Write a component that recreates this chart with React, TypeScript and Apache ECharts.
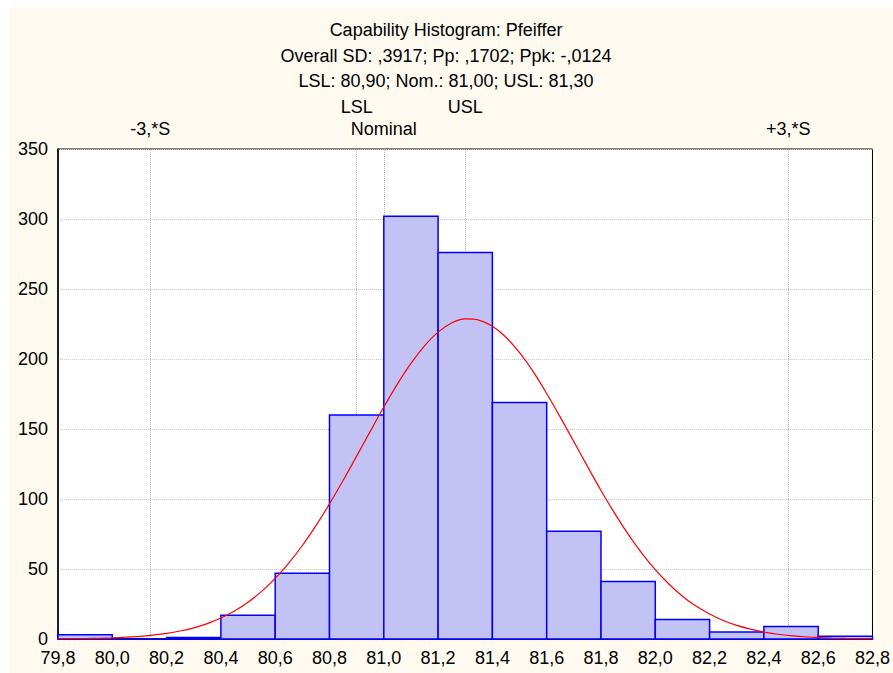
import React, { useEffect, useRef } from "react";
import * as echarts from "echarts";

// Histogram bins (lower edge, upper edge) and counts
const binLower = [79.8, 80.0, 80.2, 80.4, 80.6, 80.8, 81.0, 81.2, 81.4, 81.6, 81.8, 82.0, 82.2, 82.4, 82.6];
const binUpper = [80.0, 80.2, 80.4, 80.6, 80.8, 81.0, 81.2, 81.4, 81.6, 81.8, 82.0, 82.2, 82.4, 82.6, 82.8];
const counts = [3, 0, 1, 17, 47, 160, 302, 276, 169, 77, 41, 14, 5, 9, 2];

// Fitted normal curve
const curveX = [
  79.8, 79.85, 79.9, 79.95, 80.0, 80.05, 80.1, 80.15, 80.2, 80.25,
  80.3, 80.35, 80.4, 80.45, 80.5, 80.55, 80.6, 80.65, 80.7, 80.75,
  80.8, 80.85, 80.9, 80.95, 81.0, 81.05, 81.1, 81.15, 81.2, 81.25,
  81.3, 81.35, 81.4, 81.45, 81.5, 81.55, 81.6, 81.65, 81.7, 81.75,
  81.8, 81.85, 81.9, 81.95, 82.0, 82.05, 82.1, 82.15, 82.2, 82.25,
  82.3, 82.35, 82.4, 82.45, 82.5, 82.55, 82.6, 82.65, 82.7, 82.75,
  82.8,
];
const curveY = [
  0.1, 0.2, 0.3, 0.5, 0.8, 1.3, 1.9, 2.8, 4.0, 5.7,
  8.0, 11.0, 15.0, 20.0, 26.3, 34.0, 43.3, 54.2, 66.8, 81.0,
  96.5, 113.2, 130.6, 148.3, 165.7, 182.1, 196.9, 209.4, 219.2, 225.7,
  228.6, 227.8, 223.4, 215.5, 204.5, 191.0, 175.4, 158.5, 141.0, 123.3,
  106.1, 89.9, 74.9, 61.4, 49.5, 39.3, 30.6, 23.5, 17.8, 13.2,
  9.7, 7.0, 4.9, 3.4, 2.4, 1.6, 1.1, 0.7, 0.4, 0.3,
  0.2,
];

// Reference lines
const refNames = ["-3,*S", "LSL", "Nominal", "USL", "+3,*S"];
const refValues = [80.1395, 80.9, 81.0, 81.3, 82.4897];
const refRow = [2, 1, 2, 1, 2];

const titleLines = [
  "Capability Histogram: Pfeiffer",
  "Overall SD: ,3917; Pp: ,1702; Ppk: -,0124",
  "LSL: 80,90; Nom.: 81,00; USL: 81,30",
];

const xMin = 79.8;
const xMax = 82.8;
const xStep = 0.2;
const yTicks = [0, 50, 100, 150, 200, 250, 300, 350];

const FONT = "'Liberation Sans', Arial, sans-serif";

export default function App() {
  const ref = useRef<HTMLDivElement>(null);

  useEffect(() => {
    if (!ref.current) return;
    const chart = echarts.init(ref.current, undefined, { renderer: "svg" });

    const barData = counts.map((c, i) => [binLower[i], binUpper[i], c]);
    const curveData = curveX.map((x, i) => [x, curveY[i]]);

    const option: any = {
      animation: false,
      backgroundColor: "#fefaf0",
      textStyle: { fontFamily: FONT },
      graphic: titleLines.map((t, i) => ({
        type: "text",
        x: 437,
        y: 22 + i * 25.5,
        style: {
          text: t,
          fontSize: 18,
          fontFamily: FONT,
          fill: "#000",
          textAlign: "center",
          textVerticalAlign: "middle",
        },
      })),
      grid: {
        left: 49,
        top: 141,
        right: 17,
        bottom: 34,
        show: true,
        backgroundColor: "#ffffff",
        borderColor: "#000",
        borderWidth: 1,
      },
      xAxis: {
        type: "value",
        min: xMin,
        max: xMax,
        interval: xStep,
        axisLine: { show: true, lineStyle: { color: "#000", width: 1.5 } },
        axisTick: { show: false },
        splitLine: { show: false },
        axisLabel: {
          color: "#000",
          fontSize: 18,
          fontFamily: FONT,
          margin: 10,
          formatter: (v: number) => v.toFixed(1).replace(".", ","),
        },
      },
      yAxis: {
        type: "value",
        min: yTicks[0],
        max: yTicks[yTicks.length - 1],
        interval: 50,
        axisLine: { show: true, lineStyle: { color: "#000", width: 1.5 } },
        axisTick: { show: false },
        splitLine: { show: true, lineStyle: { color: "#c8c8c8", type: "dotted", width: 1 } },
        axisLabel: { color: "#000", fontSize: 18, fontFamily: FONT, margin: 10 },
      },
      series: [
        {
          type: "line",
          data: [],
          z: 1,
          markLine: {
            z: 1,
            silent: true,
            symbol: ["none", "none"],
            lineStyle: { color: "#b8b8b8", type: "dotted", width: 1 },
            data: refValues.map((v, i) => ({
              xAxis: v,
              label: {
                show: true,
                position: "end",
                formatter: refNames[i],
                distance: refRow[i] === 1 ? 33 : 11,
                color: "#000",
                fontSize: 18,
                fontFamily: FONT,
              },
            })),
          },
        },
        {
          type: "custom",
          z: 3,
          data: barData,
          encode: { x: [0, 1], y: 2 },
          renderItem: (params: any, api: any) => {
            const start = api.coord([api.value(0), api.value(2)]);
            const end = api.coord([api.value(1), 0]);
            return {
              type: "rect",
              shape: {
                x: start[0],
                y: start[1],
                width: end[0] - start[0],
                height: end[1] - start[1],
              },
              style: { fill: "#c2c2f5", stroke: "#0000ff", lineWidth: 1.5 },
            };
          },
        },
        {
          type: "line",
          z: 4,
          data: curveData,
          showSymbol: false,
          smooth: 0.3,
          lineStyle: { color: "#ff0000", width: 1.2 },
        },
      ],
    };

    chart.setOption(option);
    return () => chart.dispose();
  }, []);

  return (
    <div
      ref={ref}
      style={{ position: "absolute", left: 9, top: 8, width: 884, height: 665 }}
    />
  );
}
